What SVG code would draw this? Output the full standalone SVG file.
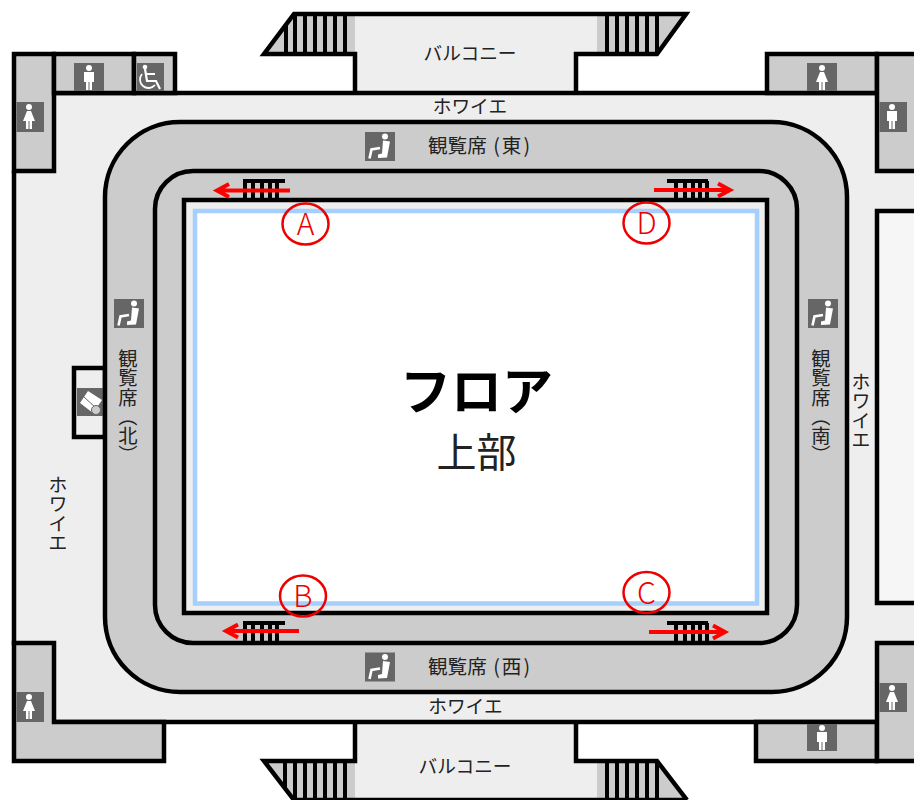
<svg xmlns="http://www.w3.org/2000/svg" width="914" height="800" viewBox="0 0 914 800">
<style>
.w{stroke:#000;stroke-width:4.500;fill:#ccc}
.l{stroke:#000;stroke-width:4.500;fill:none}
.s{stroke:#000;stroke-width:4;fill:none}
.t{font-family:"Noto Sans CJK JP","Noto Sans",sans-serif;fill:#222;font-size:18.7px;text-anchor:middle}
.h{font-size:19.6px;text-anchor:start}
.v{writing-mode:vertical-rl;text-anchor:start;font-size:19.3px}
.r{stroke:#e00;stroke-width:2.500;fill:none}
.rt{font-family:"Noto Sans CJK JP",sans-serif;fill:#e00;font-size:30px;text-anchor:middle;font-weight:300}
.arr{stroke:#f00;stroke-width:4;fill:none}
.ic{fill:#666}
.wh{fill:#fff}
.sl{stroke:#fff;stroke-width:2.600;fill:none}
</style>
<defs>
<g id="man"><circle class="wh" cx="0" cy="-10" r="3"/><path class="wh" d="M-5-6H5V4H3V12H.5V4H-.5V12H-3V4H-5Z"/></g>
<g id="woman"><circle class="wh" cx="0" cy="-10" r="3"/><path class="wh" d="M-2-6H2L6 4H3V12H.5V4H-.5V12H-3V4H-6Z"/></g>
<g id="seat"><rect class="ic" x="-15" y="-14.500" width="30" height="29"/><circle class="wh" cx="5" cy="-10" r="3"/><path class="wh" d="M3-6L10-5L7 11L-2 11.500L-2 8L2 7Z"/><path class="sl" d="M-10.500 12L-8.500 3L0 1.500"/></g>
</defs>
<g id="balcony-top">
<path d="M355 14H597V54H575V93H355Z" fill="#eee"/>
<path d="M262 54H355V14H294Z" fill="#ccc"/>
<path d="M597 14V54H658L689 14Z" fill="#ccc"/>
<path class="l" d="M355 93V54H264L294 14H686L657 54H576V93"/>
<path class="s" d="M286 24V54M295 14V54M305 14V54M315 14V54M325 14V54M335 14V54M345 14V54M607 14V54M617 14V54M627 14V54M637 14V54M647 14V54M657 14V54"/>
<text class="t" x="470" y="60">バルコニー</text>
</g>
<g id="balcony-bottom">
<path d="M355 721H575V761H597V800H355Z" fill="#eee"/>
<path d="M264 761H355V800H294Z" fill="#ccc"/>
<path d="M597 761H657L687 800H597Z" fill="#ccc"/>
<path class="l" d="M355 721V761H264L294 800M576 721V761H657L687 800M294 800H687"/>
<path class="s" d="M285 761V789M295 761V800M305 761V800M315 761V800M325 761V800M335 761V800M345 761V800M607 761V800M617 761V800M627 761V800M637 761V800M647 761V800M657 761V800"/>
<text class="t" x="465" y="773">バルコニー</text>
</g>
<g id="foyer">
<path d="M14 93H914V722H14Z" fill="#eee"/>
<path class="l" d="M14 171V645M54 93H877M54 722H877"/>
</g>
<g id="room-nw"><rect class="w" x="14" y="54" width="40" height="117"/><rect class="ic" x="16.500" y="102" width="27.500" height="30"/><use href="#woman" x="29" y="117"/></g>
<g id="room-men-n"><rect class="w" x="54" y="54" width="80" height="39"/><rect class="ic" x="74" y="63" width="30" height="28"/><use href="#man" x="89" y="78"/></g>
<g id="room-wc"><rect class="w" x="134" y="54" width="41" height="39"/><rect class="ic" x="137" y="63" width="27" height="28"/><circle cx="145" cy="67" r="2.300" class="wh"/><path d="M145 69L147 81H156L160 89M146 74H155" stroke="#fff" stroke-width="2.200" fill="none"/><path d="M142 74A8.500 8.500 0 1 0 155 85" stroke="#fff" stroke-width="1.800" fill="none"/></g>
<g id="room-ne"><rect class="w" x="767" y="54" width="110" height="39"/><rect class="ic" x="807" y="63" width="30" height="28"/><use href="#woman" x="822" y="78"/></g>
<g id="room-e"><path class="w" d="M916 54H877V171H916"/><rect class="ic" x="879.500" y="102" width="27.500" height="30"/><use href="#man" x="892" y="117"/></g>
<g id="room-e2"><path d="M916 211H877V603H916" fill="#f6f6f6" stroke="#000" stroke-width="4.500"/></g>
<g id="room-sw"><path class="w" d="M14 643H54V722H164V761H14Z"/><rect class="ic" x="16.500" y="692" width="27.500" height="30"/><use href="#woman" x="29" y="707"/></g>
<g id="room-s"><rect class="w" x="756" y="722" width="121" height="39"/><rect class="ic" x="807" y="724" width="30" height="27"/><use href="#man" x="822" y="738"/></g>
<g id="room-se"><path class="w" d="M916 643H877V761H916"/><rect class="ic" x="879.500" y="683" width="27.500" height="29"/><use href="#woman" x="892" y="698"/></g>
<g id="kiosk"><rect x="74" y="368" width="31" height="69" fill="#eee" stroke="#000" stroke-width="4.500"/><rect class="ic" x="77" y="388" width="27" height="28"/><path class="wh" d="M80 403L88 391L102 400L93 413Z"/><path d="M84 397L96 408" stroke="#666" stroke-width="1"/><circle cx="96" cy="410" r="4.500" fill="#ccc" stroke="#666"/></g>
<g id="hall">
<rect class="w" x="105" y="122" width="742" height="570" rx="75"/>
<rect class="w" x="155" y="171" width="642" height="472" rx="38"/>
<rect x="184" y="200" width="583" height="413" fill="#eee" stroke="#000" stroke-width="4.500"/>
<rect x="195" y="211" width="562" height="392.500" fill="#fff" stroke="#a5cffc" stroke-width="4.500"/>
</g>
<g id="seats">
<use href="#seat" x="380" y="146.500"/><use href="#seat" x="129" y="313.500"/><use href="#seat" x="823" y="313.500"/><use href="#seat" x="380" y="667"/>
<text class="t h" x="428" y="153">観覧席 <tspan dx="2">(</tspan><tspan dx="2">東</tspan><tspan dx="2">)</tspan></text>
<text class="t h" x="428" y="674">観覧席 <tspan dx="2">(</tspan><tspan dx="2">西</tspan><tspan dx="2">)</tspan></text>
<text class="t v" x="128" y="349">観覧席（北）</text>
<text class="t v" x="821" y="349">観覧席（南）</text>
<text class="t" x="470" y="113">ホワイエ</text>
<text class="t" x="465.500" y="713">ホワイエ</text>
<text class="t v" x="861" y="372">ホワイエ</text>
<text class="t v" x="58" y="475">ホワイエ</text>
</g>
<g id="floor-label">
<text x="476.500" y="410" font-family="'Noto Sans CJK JP',sans-serif" font-size="51" font-weight="700" text-anchor="middle" fill="#000">フロア</text>
<text x="476.500" y="467" font-family="'Noto Sans CJK JP',sans-serif" font-size="40" text-anchor="middle" fill="#222">上部</text>
</g>
<g id="connectors">
<path class="s" d="M243 181H285M245 181V200M253 181V200M262 181V200M270 181V200M277 181V200"/>
<path class="s" d="M667 181H708M676 181V200M685 181V200M693 181V200M700 181V200M707 181V200"/>
<path class="s" d="M243 623H285M245 623V642M253 623V642M262 623V642M270 623V642M277 623V642"/>
<path class="s" d="M667 623H708M676 623V642M685 623V642M693 623V642M700 623V642M707 623V642"/>
<path class="arr" d="M290 190.500H217M229 184L217 190.500L229 197"/>
<path class="arr" d="M654 190H730M718 183.500L730 190L718 196.500"/>
<path class="arr" d="M299 631H226M238 624.500L226 631L238 637.500"/>
<path class="arr" d="M649 632H725M713 625.500L725 632L713 638.500"/>
</g>
<g id="mark-a"><ellipse class="r" cx="305.500" cy="224" rx="23" ry="20.500"/><text class="rt" x="305.500" y="235">A</text></g>
<g id="mark-b"><ellipse class="r" cx="303" cy="596" rx="23" ry="20.500"/><text class="rt" x="303" y="607">B</text></g>
<g id="mark-c"><ellipse class="r" cx="646.500" cy="592.500" rx="23" ry="20.500"/><text class="rt" x="646.500" y="603.500">C</text></g>
<g id="mark-d"><ellipse class="r" cx="646.500" cy="223" rx="23" ry="20.500"/><text class="rt" x="646.500" y="234">D</text></g>
</svg>
